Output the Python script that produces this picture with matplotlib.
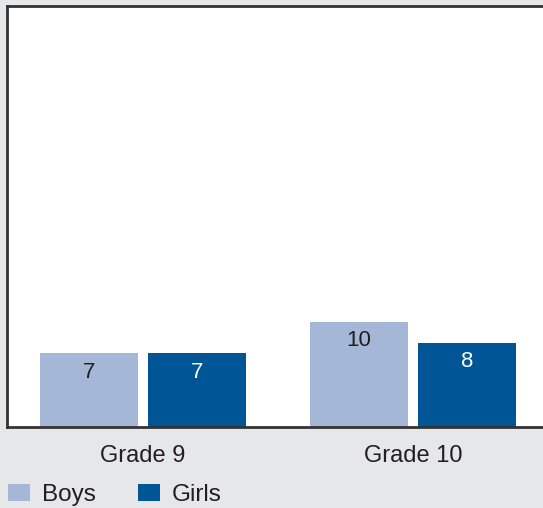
import matplotlib
matplotlib.use("Agg")
import matplotlib.pyplot as plt
import numpy as np

categories = ["Grade 9", "Grade 10"]
series_names = ["Boys", "Girls"]
boys = [7, 10]
girls = [7, 8]

colors = ["#a4b7d7", "#005596"]
label_colors = ["#231f20", "#ffffff"]
bg = "#e6e7e8"
txt = "#231f20"

plt.rcParams['font.family'] = ['Liberation Sans', 'DejaVu Sans']

W, H = 543, 508
fig = plt.figure(figsize=(W / 100, H / 100), dpi=100, facecolor=bg)
ax = fig.add_axes([7 / W, 1 - 427 / H, (W - 7) / W + 0.01, 421 / H])
ax.set_facecolor("white")

x = np.arange(len(categories))
width = 98 / 270
offset = 54 / 270
for i, (vals, name) in enumerate(zip([boys, girls], series_names)):
    pos = x + (-offset if i == 0 else offset)
    bars = ax.bar(pos, vals, width=width, color=colors[i], label=name, zorder=2)
    for b, v in zip(bars, vals):
        ax.annotate(str(v), (b.get_x() + b.get_width() / 2, b.get_height()),
                    xytext=(0, -19), textcoords="offset pixels",
                    ha="center", va="center", fontsize=16, color=label_colors[i])

ax.set_xlim(-0.504, -0.504 + (W - 7) / 270 + 0.01 * W / 270)
ax.set_ylim(0, 40)
ax.set_yticks([])
ax.set_xticks(x)
ax.set_xticklabels(categories, fontsize=17, color=txt)
ax.tick_params(axis="x", length=0, pad=13)
for s in ["left", "top", "bottom"]:
    ax.spines[s].set_color("#333333")
    ax.spines[s].set_linewidth(2)
ax.spines["right"].set_visible(False)

handles, labels = ax.get_legend_handles_labels()
leg = fig.legend(handles, labels, loc="lower left", bbox_to_anchor=(4 / W, -2 / H),
                 ncol=2, frameon=False, fontsize=17.5, handlelength=0.9,
                 handleheight=0.7, handletextpad=0.5, columnspacing=1.75,
                 borderaxespad=0.0, borderpad=0.15, labelcolor=txt)

fig.savefig("out.png", dpi=100, facecolor=bg)
